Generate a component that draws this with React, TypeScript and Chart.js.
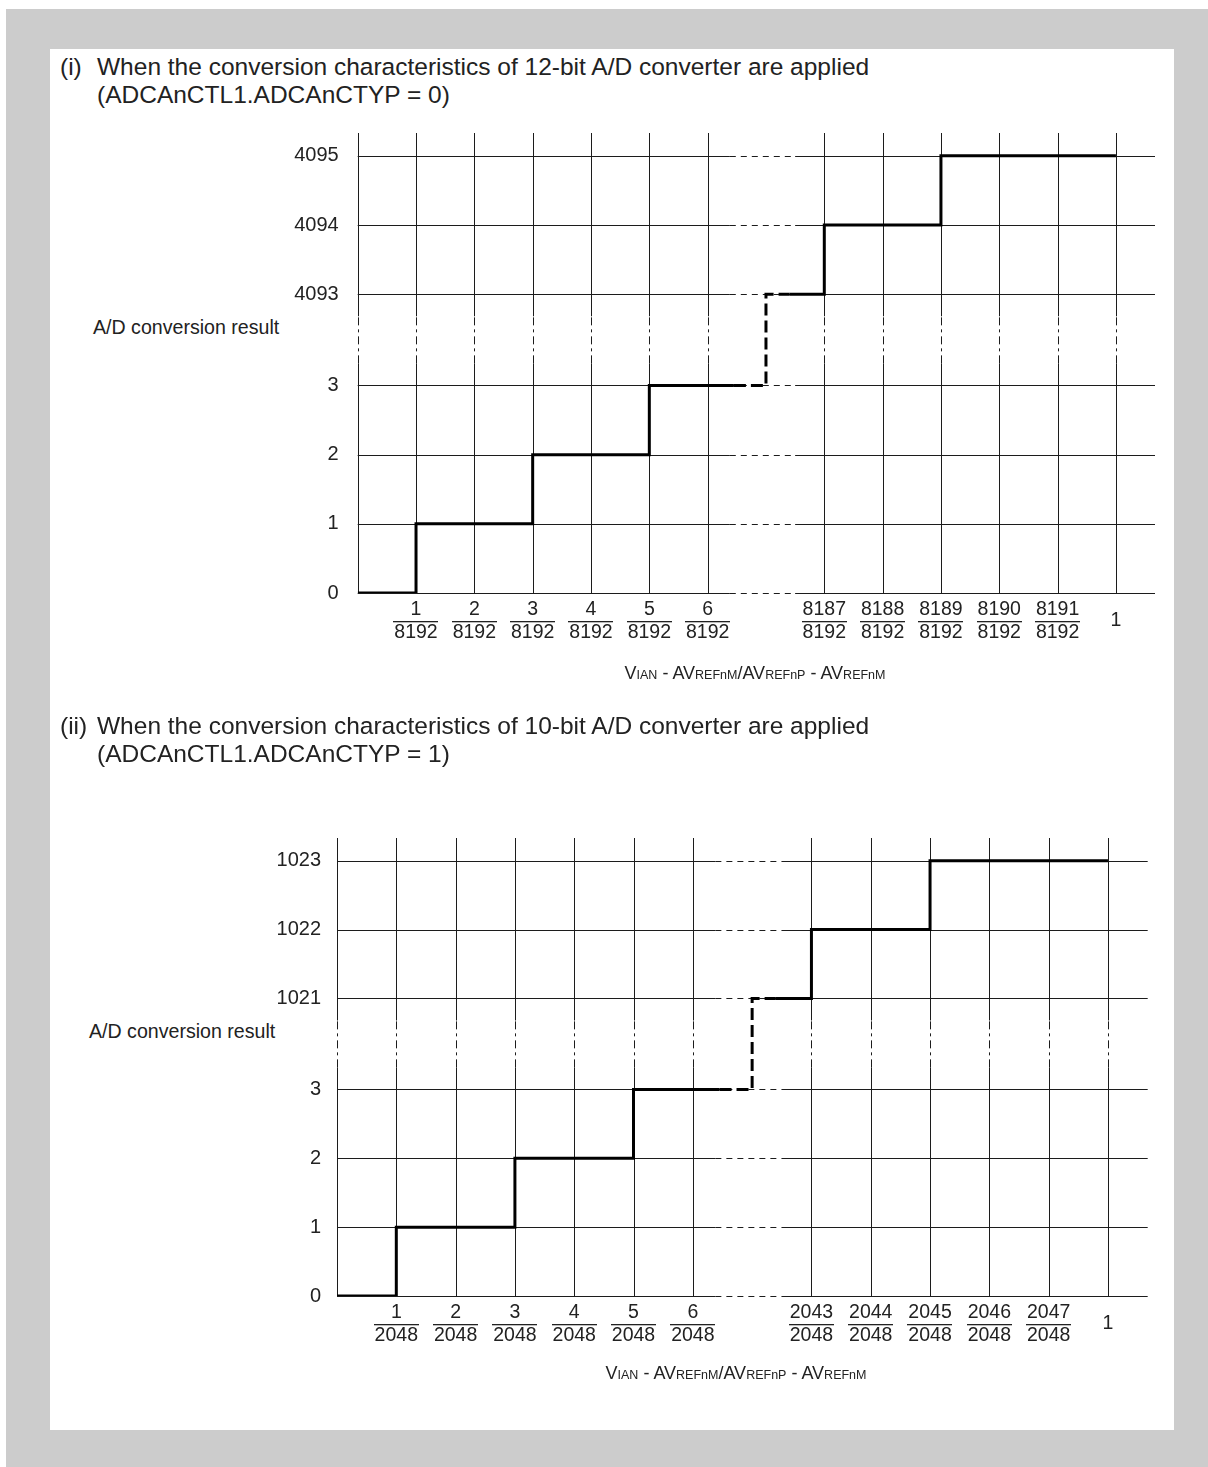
import React, { useEffect, useRef } from "react";
import { Chart, registerables } from "chart.js";

Chart.register(...registerables);

// ---------- data ----------
// y grid/tick positions (slot index) and labels
const Y_POS = [0, 1, 2, 3, 4.32, 5.32, 6.32];
const Y_LABELS_12 = ["0", "1", "2", "3", "4093", "4094", "4095"];
const Y_LABELS_10 = ["0", "1", "2", "3", "1021", "1022", "1023"];

// x grid positions (slot index); slot 7 is the omitted region
const X_POS = [0, 1, 2, 3, 4, 5, 6, 8, 9, 10, 11, 12, 13];
const X_NUM_12 = ["1", "2", "3", "4", "5", "6", "8187", "8188", "8189", "8190", "8191"];
const X_DEN_12 = "8192";
const X_NUM_10 = ["1", "2", "3", "4", "5", "6", "2043", "2044", "2045", "2046", "2047"];
const X_DEN_10 = "2048";
const X_LAST = "1";

// step characteristic: slot where each output code begins
const STEP_X = [0, 1, 3, 5, 7, 8, 10];
const CODES_12 = [0, 1, 2, 3, 4093, 4094, 4095];
const CODES_10 = [0, 1, 2, 3, 1021, 1022, 1023];
const STEP_END = 13;
// omitted region shown dashed
const DASH_FROM = 6.45;
const DASH_TO = 7.4;

const X_GAP = [6.38, 7.5];
const Y_GAP = [3.32, 4.0];
const X_MAX = 13.67;
const Y_MAX = 6.65;

const FONT = "'Liberation Sans', Arial, Helvetica, sans-serif";
const INK = "#222";

function buildPoints(codes: number[]) {
  const pts: { x: number; y: number }[] = [];
  STEP_X.forEach((sx, i) => {
    const yv = Y_POS[i];
    if (i === 4) pts.push({ x: DASH_FROM, y: Y_POS[3] });
    pts.push({ x: sx, y: yv });
    if (i === 4) pts.push({ x: DASH_TO, y: yv });
  });
  pts.push({ x: STEP_END, y: Y_POS[codes.length - 1] });
  return pts;
}

type Cfg = {
  top: number;
  yLabels: string[];
  codes: number[];
  nums: string[];
  den: string;
  yAxisW: number;
  padRight: number;
  padTop: number;
  padBottom: number;
  tickPad: number;
};

function makeGridPlugin(cfg: Cfg) {
  return {
    id: "adGrid",
    beforeDatasetsDraw(chart: any) {
      const { ctx } = chart;
      const xs = chart.scales.x;
      const ys = chart.scales.y;
      const px = (v: number) => Math.round(xs.getPixelForValue(v)) + 0.5;
      const py = (v: number) => Math.round(ys.getPixelForValue(v)) + 0.5;
      const rx = (v: number) => xs.getPixelForValue(v);
      const ry = (v: number) => ys.getPixelForValue(v);
      ctx.save();
      ctx.strokeStyle = "#1c1c1c";
      ctx.lineWidth = 1;
      const line = (x0: number, y0: number, x1: number, y1: number, dash: number[]) => {
        ctx.setLineDash(dash);
        ctx.beginPath();
        ctx.moveTo(x0, y0);
        ctx.lineTo(x1, y1);
        ctx.stroke();
      };
      for (const yv of Y_POS) {
        const y = py(yv);
        line(rx(0), y, rx(X_GAP[0]), y, []);
        line(rx(X_GAP[0]), y, rx(X_GAP[1]), y, [6, 5]);
        line(rx(X_GAP[1]), y, rx(X_MAX), y, []);
      }
      for (const xv of X_POS) {
        const x = px(xv);
        line(x, ry(0), x, ry(Y_GAP[0]), []);
        line(x, ry(Y_GAP[0]), x, ry(Y_GAP[1]), [8, 4, 3, 4]);
        line(x, ry(Y_GAP[1]), x, ry(Y_MAX), []);
      }
      ctx.restore();
    },
    afterDraw(chart: any) {
      const { ctx } = chart;
      const xs = chart.scales.x;
      const ys = chart.scales.y;
      const base = ys.getPixelForValue(0);
      ctx.save();
      ctx.font = `19.5px ${FONT}`;
      ctx.fillStyle = INK;
      ctx.textAlign = "center";
      ctx.textBaseline = "middle";
      const labelSlots = X_POS.filter((v) => v !== 0 && v !== STEP_END);
      labelSlots.forEach((xv, i) => {
        const x = xs.getPixelForValue(xv);
        ctx.fillText(cfg.nums[i], x, base + 17);
        ctx.fillText(cfg.den, x, base + 40);
        const w = ctx.measureText(cfg.den).width + 2;
        ctx.fillRect(Math.round(x - w / 2), Math.round(base + 28), Math.round(w), 1.3);
      });
      ctx.fillText(X_LAST, xs.getPixelForValue(STEP_END), base + 28);
      ctx.restore();
    },
  };
}

function ADChart({ cfg }: { cfg: Cfg }) {
  const ref = useRef<HTMLCanvasElement>(null);
  useEffect(() => {
    const pts = buildPoints(cfg.codes);
    const chart = new Chart(ref.current as HTMLCanvasElement, {
      type: "line",
      data: {
        datasets: [
          {
            data: pts,
            borderColor: "#000",
            borderWidth: 3,
            pointRadius: 0,
            stepped: "before",
            fill: false,
            borderCapStyle: "butt",
            borderJoinStyle: "miter",
            segment: {
              borderDash: (c: any) =>
                c.p0.parsed.x >= DASH_FROM - 1e-6 && c.p1.parsed.x <= DASH_TO + 1e-6 ? [12, 5] : undefined,
            },
          } as any,
        ],
      },
      options: {
        responsive: false,
        animation: false,
        devicePixelRatio: 1,
        layout: { padding: { left: 0, right: cfg.padRight, top: cfg.padTop, bottom: cfg.padBottom } },
        plugins: { legend: { display: false }, tooltip: { enabled: false } },
        scales: {
          x: { type: "linear", min: 0, max: X_MAX, display: false },
          y: {
            type: "linear",
            min: 0,
            max: Y_MAX,
            grid: { display: false, drawTicks: false },
            border: { display: false },
            afterBuildTicks: (s: any) => {
              s.ticks = Y_POS.map((v) => ({ value: v }));
            },
            afterFit: (s: any) => {
              s.width = cfg.yAxisW;
              s.paddingTop = 0;
              s.paddingBottom = 0;
              s.paddingLeft = 0;
              s.paddingRight = 0;
            },
            ticks: {
              callback: (v: any) => cfg.yLabels[Y_POS.indexOf(Number(v))],
              font: { size: 20, family: FONT },
              color: INK,
              padding: cfg.tickPad,
            },
          },
        },
      } as any,
      plugins: [makeGridPlugin(cfg)],
    });
    return () => chart.destroy();
  }, []);
  return (
    <canvas
      ref={ref}
      width={1124}
      height={600}
      style={{ position: "absolute", left: 50, top: cfg.top, width: 1124, height: 600 }}
    />
  );
}

const small = { fontSize: 12.5 };

function XTitle({ cx, top }: { cx: number; top: number }) {
  return (
    <div
      style={{
        position: "absolute",
        left: cx,
        top,
        transform: "translateX(-50%)",
        whiteSpace: "nowrap",
        fontSize: 18,
        lineHeight: "20px",
        color: INK,
      }}
    >
      V<span style={small}>IAN</span> - AV<span style={small}>REFnM</span>/AV<span style={small}>REFnP</span> - AV
      <span style={small}>REFnM</span>
    </div>
  );
}

function Heading({ top, num, line1, line2 }: { top: number; num: string; line1: string; line2: string }) {
  const st = { position: "absolute" as const, top, fontSize: 24.5, lineHeight: "28px", color: INK, whiteSpace: "nowrap" as const };
  return (
    <>
      <div style={{ ...st, left: 60 }}>{num}</div>
      <div style={{ ...st, left: 97 }}>
        {line1}
        <br />
        {line2}
      </div>
    </>
  );
}

const CFG1: Cfg = {
  top: 120,
  yLabels: Y_LABELS_12,
  codes: CODES_12,
  nums: X_NUM_12,
  den: X_DEN_12,
  yAxisW: 307.7,
  padRight: 19,
  padTop: 13,
  padBottom: 127,
  tickPad: 19,
};

const CFG2: Cfg = {
  top: 820,
  yLabels: Y_LABELS_10,
  codes: CODES_10,
  nums: X_NUM_10,
  den: X_DEN_10,
  yAxisW: 287,
  padRight: 26.3,
  padTop: 18,
  padBottom: 124,
  tickPad: 16,
};

export default function App() {
  return (
    <div
      style={{
        position: "absolute",
        left: 0,
        top: 0,
        width: 1208,
        height: 1467,
        fontFamily: FONT,
        background: "#fff",
        overflow: "hidden",
      }}
    >
      <div style={{ position: "absolute", left: 6, top: 9, width: 1202, height: 1458, background: "#cccccc" }} />
      <div style={{ position: "absolute", left: 50, top: 49, width: 1124, height: 1381, background: "#ffffff" }} />
      <Heading
        top={53}
        num="(i)"
        line1="When the conversion characteristics of 12-bit A/D converter are applied"
        line2="(ADCAnCTL1.ADCAnCTYP = 0)"
      />
      <div style={{ position: "absolute", left: 93, top: 317, fontSize: 19.6, lineHeight: "21px", color: INK, whiteSpace: "nowrap" }}>
        A/D conversion result
      </div>
      <ADChart cfg={CFG1} />
      <XTitle cx={755} top={663} />

      <Heading
        top={712}
        num="(ii)"
        line1="When the conversion characteristics of 10-bit A/D converter are applied"
        line2="(ADCAnCTL1.ADCAnCTYP = 1)"
      />
      <div style={{ position: "absolute", left: 89, top: 1021, fontSize: 19.6, lineHeight: "21px", color: INK, whiteSpace: "nowrap" }}>
        A/D conversion result
      </div>
      <ADChart cfg={CFG2} />
      <XTitle cx={736} top={1363} />
    </div>
  );
}
